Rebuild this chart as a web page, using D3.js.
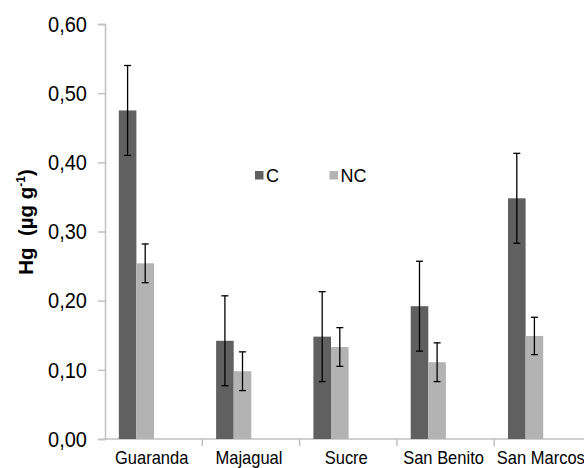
<!DOCTYPE html>
<html>
<head>
<meta charset="utf-8">
<script src="https://cdn.jsdelivr.net/npm/d3@7"></script>
<style>
	body { margin: 0; background: #fff; }
	svg { display: block; font-family: "Liberation Sans", Arial, sans-serif; }
</style>
</head>
<body>
<script>
// data
const sites = ["Guaranda", "Majagual", "Sucre", "San Benito", "San Marcos"];
const series = ["C", "NC"];
const valuesC = [0.475, 0.142, 0.148, 0.192, 0.348];
const valuesNC = [0.254, 0.098, 0.133, 0.111, 0.149];
const errC = [0.065, 0.065, 0.065, 0.065, 0.065];
const errNC = [0.028, 0.028, 0.028, 0.028, 0.027];
const yTicks = [0, 0.1, 0.2, 0.3, 0.4, 0.5, 0.6];
const colors = { C: "#606060", NC: "#b3b3b3" };

const width = 584;
const height = 468;
const axisX = 105;
const bandWidth = 97.3;
const barWidth = 17.6;
const barOffset = 13.8;

const svg = d3.select("body")
	.append("svg")
	.attr("width", width)
	.attr("height", height);

const yScale = d3.scaleLinear().domain([0, 0.6]).range([439, 24]);
const xScale = d3.scaleBand()
	.domain(sites)
	.range([axisX, axisX + bandWidth * sites.length]);
const xSeries = d3.scaleBand()
	.domain(series)
	.range([barOffset, barOffset + barWidth * series.length]);

// y axis
const commaFormat = (d) => d3.format(".2f")(d).replace(".", ",");
const yAxis = svg.append("g")
	.attr("transform", "translate(" + axisX + ",0)")
	.call(d3.axisLeft(yScale).tickValues(yTicks).tickSize(7).tickPadding(11).tickFormat(commaFormat));
yAxis.select(".domain").attr("stroke", "#c0c0c0").attr("stroke-width", 1.5);
yAxis.selectAll(".tick line").attr("stroke", "#c0c0c0").attr("stroke-width", 1.5);
yAxis.selectAll(".tick text")
	.attr("font-size", 20)
	.attr("font-family", "Liberation Sans, Arial, sans-serif")
	.attr("fill", "#000")
	.attr("transform", "scale(1,1.12)");

// x axis: ticks sit on band edges
const xAxisG = svg.append("g").attr("transform", "translate(0," + yScale(0) + ")");
xAxisG.append("line")
	.attr("x1", axisX)
	.attr("x2", axisX + bandWidth * sites.length)
	.attr("stroke", "#c0c0c0")
	.attr("stroke-width", 1.5);
xAxisG.selectAll(".xtick")
	.data(sites.slice(1))
	.enter()
	.append("line")
	.attr("x1", (d) => xScale(d))
	.attr("x2", (d) => xScale(d))
	.attr("y1", 0)
	.attr("y2", 7)
	.attr("stroke", "#c0c0c0")
	.attr("stroke-width", 1.5);
xAxisG.selectAll(".xlabel")
	.data(sites)
	.enter()
	.append("text")
	.attr("transform", (d) => "translate(" + (xScale(d) + xScale.bandwidth() / 2 - 2) + ",24.5) scale(1,1.13)")
	.attr("text-anchor", "middle")
	.attr("font-size", 16.5)
	.attr("fill", "#000")
	.text((d) => d);

// bars
const rows = sites.map((s, i) => ({
	site: s,
	items: [
		{ key: "C", value: valuesC[i], err: errC[i] },
		{ key: "NC", value: valuesNC[i], err: errNC[i] }
	]
}));

const groups = svg.selectAll(".site")
	.data(rows)
	.enter()
	.append("g")
	.attr("transform", (d) => "translate(" + xScale(d.site) + ",0)");

groups.selectAll("rect")
	.data((d) => d.items)
	.enter()
	.append("rect")
	.attr("x", (d) => xSeries(d.key))
	.attr("y", (d) => yScale(d.value))
	.attr("width", xSeries.bandwidth())
	.attr("height", (d) => yScale(0) - yScale(d.value))
	.attr("fill", (d) => colors[d.key]);

// error bars
const capHalf = 3.5;
const errG = groups.selectAll(".err")
	.data((d) => d.items)
	.enter()
	.append("g")
	.attr("stroke", "#000")
	.attr("stroke-width", 1.3);
errG.append("line")
	.attr("x1", (d) => xSeries(d.key) + xSeries.bandwidth() / 2)
	.attr("x2", (d) => xSeries(d.key) + xSeries.bandwidth() / 2)
	.attr("y1", (d) => yScale(d.value + d.err))
	.attr("y2", (d) => yScale(d.value - d.err));
errG.selectAll(".cap")
	.data((d) => [d.value + d.err, d.value - d.err].map((v) => ({ key: d.key, v: v })))
	.enter()
	.append("line")
	.attr("x1", (d) => xSeries(d.key) + xSeries.bandwidth() / 2 - capHalf)
	.attr("x2", (d) => xSeries(d.key) + xSeries.bandwidth() / 2 + capHalf)
	.attr("y1", (d) => yScale(d.v))
	.attr("y2", (d) => yScale(d.v));

// y title
const title = svg.append("text")
	.attr("transform", "translate(33,222) rotate(-90)")
	.attr("text-anchor", "middle")
	.attr("font-size", 20.5)
	.attr("font-weight", "bold")
	.attr("fill", "#000");
title.append("tspan").text("Hg\u00a0\u00a0(\u00b5g g");
title.append("tspan").attr("font-size", 12).attr("dy", -8).text("-1");
title.append("tspan").attr("dy", 8).text(")");

// legend
const legendPos = [{ key: "C", x: 255 }, { key: "NC", x: 329.5 }];
const legend = svg.selectAll(".legend")
	.data(legendPos)
	.enter()
	.append("g")
	.attr("transform", (d) => "translate(" + d.x + ",171)");
legend.append("rect")
	.attr("width", 8.5)
	.attr("height", 8.5)
	.attr("fill", (d) => colors[d.key]);
legend.append("text")
	.attr("x", 11)
	.attr("y", 10.5)
	.attr("font-size", 18)
	.attr("fill", "#000")
	.text((d) => d.key);
</script>
</body>
</html>
